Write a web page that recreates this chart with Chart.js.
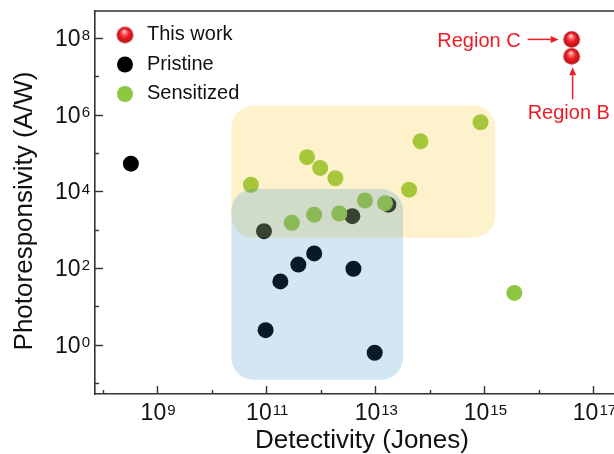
<!DOCTYPE html>
<html><head><meta charset="utf-8">
<script src="https://cdn.jsdelivr.net/npm/chart.js@4.4.1/dist/chart.umd.min.js"></script>
<style>html,body{margin:0;padding:0;background:#fff;overflow:hidden}#wrap{width:660px;height:454px;position:relative}</style>
</head><body><div id="wrap"><canvas id="c"></canvas></div>
<script>
// ---- data ----
const seriesNames = ['This work', 'Pristine', 'Sensitized'];
const thisWorkX = [3.98e16, 3.98e16];
const thisWorkY = [9.12e7, 3.31e7];
const thisWorkLabels = ['Region C', 'Region B'];
const pristineX = [3.31e8, 9.12e10, 3.80e12, 1.74e13, 7.59e11, 3.89e11, 1.82e11, 3.98e12, 9.77e10, 9.77e12];
const pristineY = [5.25e4, 912, 2240, 4470, 240, 123, 44.7, 95.5, 2.40, 0.617];
const sensitizedX = [5.25e10, 5.62e11, 9.77e11, 1.86e12, 2.95e11, 7.59e11, 2.19e12, 6.46e12, 1.51e13, 4.17e13, 6.76e13, 8.51e14, 3.55e15];
const sensitizedY = [1.48e4, 7.76e4, 4.07e4, 2.19e4, 1.51e3, 2.45e3, 2.63e3, 5.75e3, 4.90e3, 1.10e4, 2.0e5, 6.31e5, 22.4];
// shaded regions [xMin, xMax, yMin, yMax]
const sensitizedRegion = [2.3e10, 1.58e15, 617, 1.72e6];
const pristineRegion = [2.3e10, 3.24e13, 0.123, 1.15e4];
// axes
const xRange = [7.28e7, 1e18];
const yRange = [0.0519, 5.01e8];
const xTickExps = [9, 11, 13, 15, 17];
const yTickExps = [0, 2, 4, 6, 8];
const xTitle = 'Detectivity (Jones)';
const yTitle = 'Photoresponsivity (A/W)';

const FONT = '"Liberation Sans", Arial, sans-serif';
const RED = '#ec1c24', GREEN = '#8dc63f', BLACK = '#000000';

function makeSphere(r) {
  const s = Math.ceil(r * 2 + 2);
  const c = document.createElement('canvas');
  c.width = s; c.height = s;
  const g = c.getContext('2d');
  const cx = s / 2, cy = s / 2;
  const grad = g.createRadialGradient(cx - r * 0.1, cy - r * 0.45, r * 0.05, cx, cy, r);
  grad.addColorStop(0, '#ffe4e4');
  grad.addColorStop(0.22, '#ff6d6d');
  grad.addColorStop(0.55, '#ea1b23');
  grad.addColorStop(1, '#b40f16');
  g.fillStyle = grad;
  g.beginPath(); g.arc(cx, cy, r, 0, Math.PI * 2); g.fill();
  return c;
}
const sphere = makeSphere(8.3);

function pts(xs, ys) { return xs.map((x, i) => ({ x: x, y: ys[i] })); }

function roundRect(ctx, x0, y0, x1, y1, r) {
  ctx.beginPath();
  ctx.moveTo(x0 + r, y0);
  ctx.lineTo(x1 - r, y0); ctx.arcTo(x1, y0, x1, y0 + r, r);
  ctx.lineTo(x1, y1 - r); ctx.arcTo(x1, y1, x1 - r, y1, r);
  ctx.lineTo(x0 + r, y1); ctx.arcTo(x0, y1, x0, y1 - r, r);
  ctx.lineTo(x0, y0 + r); ctx.arcTo(x0, y0, x0 + r, y0, r);
  ctx.closePath();
}

function drawPow(ctx, exp, x, y, align) {
  ctx.font = '23px ' + FONT;
  const w1 = ctx.measureText('10').width;
  ctx.font = '15px ' + FONT;
  const w2 = ctx.measureText(String(exp)).width;
  const total = w1 + 1 + w2;
  const start = align === 'center' ? x - total / 2 : x - total;
  ctx.textAlign = 'left';
  ctx.textBaseline = 'alphabetic';
  ctx.fillStyle = '#111';
  ctx.font = '23px ' + FONT;
  ctx.fillText('10', start, y + 8.2);
  ctx.font = '15px ' + FONT;
  ctx.fillText(String(exp), start + w1 + 1, y + 2.5);
}

function arrow(ctx, x0, y0, x1, y1) {
  const a = Math.atan2(y1 - y0, x1 - x0);
  const L = 8, W = 3.5;
  const bx = x1 - L * Math.cos(a), by = y1 - L * Math.sin(a);
  ctx.beginPath(); ctx.moveTo(x0, y0); ctx.lineTo(bx, by); ctx.stroke();
  ctx.beginPath();
  ctx.moveTo(x1, y1);
  ctx.lineTo(bx + W * Math.sin(a), by - W * Math.cos(a));
  ctx.lineTo(bx - W * Math.sin(a), by + W * Math.cos(a));
  ctx.closePath(); ctx.fill();
}

const decorPlugin = {
  id: 'decor',
  afterDatasetsDraw(chart) {
    const ctx = chart.ctx, xs = chart.scales.x, ys = chart.scales.y;
    const box = (r, fill) => {
      const x0 = xs.getPixelForValue(r[0]), x1 = xs.getPixelForValue(r[1]);
      const y0 = ys.getPixelForValue(r[3]), y1 = ys.getPixelForValue(r[2]);
      ctx.save(); ctx.fillStyle = fill; roundRect(ctx, x0, y0, x1, y1, 22); ctx.fill(); ctx.restore();
    };
    box(sensitizedRegion, 'rgba(247,203,47,0.25)');
    box(pristineRegion, 'rgba(30,132,200,0.2)');
  },
  afterDraw(chart) {
    const ctx = chart.ctx, xs = chart.scales.x, ys = chart.scales.y, ca = chart.chartArea;
    ctx.save();
    // top frame
    ctx.strokeStyle = '#333'; ctx.lineWidth = 1.6;
    ctx.beginPath(); ctx.moveTo(ca.left, ca.top); ctx.lineTo(ca.right, ca.top); ctx.lineTo(ca.right, ca.bottom); ctx.stroke();
    // inward tick marks
    ctx.lineWidth = 1.4;
    for (let e = 8; e <= 18; e++) {
      const px = Math.round(xs.getPixelForValue(Math.pow(10, e))) + 0.5;
      const len = xTickExps.includes(e) ? 8 : 4;
      ctx.beginPath(); ctx.moveTo(px, ca.bottom); ctx.lineTo(px, ca.bottom - len); ctx.stroke();
    }
    for (let e = -1; e <= 8; e++) {
      const py = Math.round(ys.getPixelForValue(Math.pow(10, e))) + 0.5;
      const len = yTickExps.includes(e) ? 8 : 4;
      ctx.beginPath(); ctx.moveTo(ca.left, py); ctx.lineTo(ca.left + len, py); ctx.stroke();
    }
    // tick labels
    xTickExps.forEach(e => drawPow(ctx, e, xs.getPixelForValue(Math.pow(10, e)) + 1, ca.bottom + 18, 'center'));
    yTickExps.forEach(e => drawPow(ctx, e, ca.left - 5, ys.getPixelForValue(Math.pow(10, e)), 'right'));
    // axis titles
    ctx.fillStyle = '#111';
    ctx.font = '26px ' + FONT;
    ctx.textAlign = 'center'; ctx.textBaseline = 'alphabetic';
    ctx.fillText(xTitle, 362, 448);
    ctx.save(); ctx.translate(32, 211); ctx.rotate(-Math.PI / 2); ctx.fillText(yTitle, 0, 0); ctx.restore();
    // legend
    const legY = [35, 64.5, 94];
    const legX = 125;
    ctx.drawImage(sphere, legX - sphere.width / 2, legY[0] - sphere.height / 2);
    ctx.fillStyle = BLACK; ctx.beginPath(); ctx.arc(legX, legY[1], 8, 0, Math.PI * 2); ctx.fill();
    ctx.fillStyle = GREEN; ctx.beginPath(); ctx.arc(legX, legY[2], 8, 0, Math.PI * 2); ctx.fill();
    ctx.fillStyle = '#111'; ctx.font = '20px ' + FONT; ctx.textAlign = 'left';
    seriesNames.forEach((n, i) => ctx.fillText(n, 147, legY[i] + 5));
    // region annotations
    const xp = xs.getPixelForValue(thisWorkX[0]);
    const yC = ys.getPixelForValue(thisWorkY[0]);
    const yB = ys.getPixelForValue(thisWorkY[1]);
    ctx.fillStyle = RED; ctx.strokeStyle = RED; ctx.lineWidth = 1.5;
    ctx.font = '20px ' + FONT;
    ctx.textAlign = 'right'; ctx.fillText(thisWorkLabels[0], xp - 51, yC + 7.5);
    arrow(ctx, xp - 44, yC, xp - 13, yC);
    ctx.textAlign = 'left'; ctx.fillText(thisWorkLabels[1], xp - 44, yB + 63);
    arrow(ctx, xp + 1, yB + 43, xp + 1, yB + 11);
    ctx.restore();
  }
};

new Chart(document.getElementById('c'), {
  type: 'scatter',
  data: {
    datasets: [
      { label: seriesNames[0], data: pts(thisWorkX, thisWorkY), pointStyle: sphere, pointRadius: 8.3, order: 0 },
      { label: seriesNames[2], data: pts(sensitizedX, sensitizedY), backgroundColor: GREEN, borderWidth: 0, pointRadius: 8, order: 1 },
      { label: seriesNames[1], data: pts(pristineX, pristineY), backgroundColor: BLACK, borderWidth: 0, pointRadius: 8, order: 2 }
    ]
  },
  options: {
    responsive: true, maintainAspectRatio: false, animation: false,
    events: [],
    layout: { padding: { top: 11, right: 12, left: 0, bottom: 0 } },
    plugins: { legend: { display: false }, tooltip: { enabled: false } },
    scales: {
      x: {
        type: 'logarithmic', min: xRange[0], max: xRange[1],
        grid: { display: false, drawTicks: false },
        border: { display: true, color: '#333', width: 1.6 },
        ticks: { display: false },
        afterFit(s) { s.height = 60; }
      },
      y: {
        type: 'logarithmic', min: yRange[0], max: yRange[1],
        grid: { display: false, drawTicks: false },
        border: { display: true, color: '#333', width: 1.6 },
        ticks: { display: false },
        afterFit(s) { s.width = 95; }
      }
    }
  },
  plugins: [decorPlugin]
});
</script>
</body></html>
